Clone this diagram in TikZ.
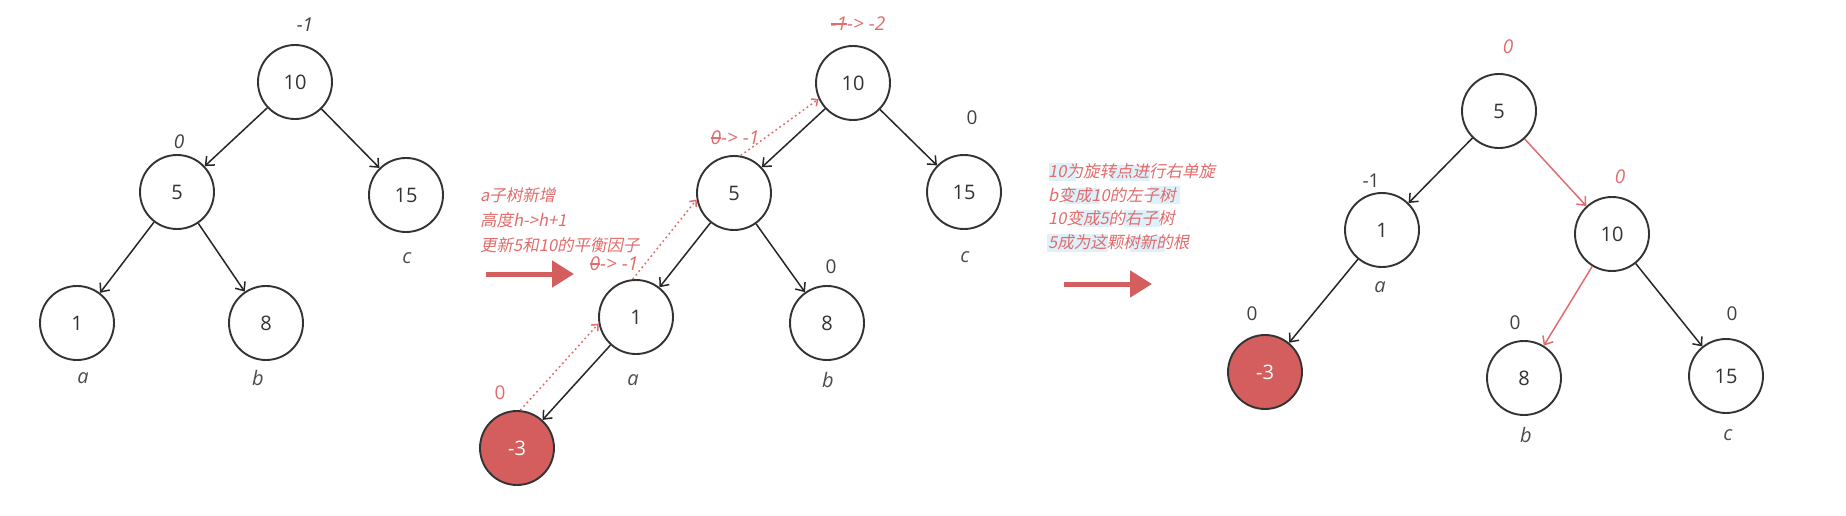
\documentclass[tikz,border=0pt]{standalone}
\usepackage{fontspec}
\setmainfont{Open Sans}
\newfontfamily\cjk[FakeSlant=0.2]{Noto Sans CJK SC}
\usetikzlibrary{arrows.meta}
\definecolor{lred}{RGB}{226,108,108}
\definecolor{nred}{RGB}{212,94,94}
\definecolor{hblue}{RGB}{222,241,250}
\newcommand\strk[1]{\setbox0\hbox{#1}\rlap{\rule[0.32em]{\wd0}{1.3pt}}\box0}
\begin{document}
\begin{tikzpicture}[x=1pt,y=-1pt,
  tn/.style={circle,draw=black!80,line width=1.9pt,minimum size=74pt,inner sep=0pt,
    font=\fontsize{20}{24}\selectfont,text=black!80},
  newn/.style={tn,fill=nred,text=white},
  edge/.style={-{Straight Barb[length=7pt,width=12pt]},line width=1.5pt,draw=black!85},
  redge/.style={edge,draw=lred},
  dotarr/.style={-{Straight Barb[length=5pt,width=9pt]},dash pattern=on 1.8pt off 3pt,line width=1.5pt,draw=lred},
  lab/.style={font=\fontsize{20}{24}\selectfont\itshape,text=black!70},
  bf/.style={font=\fontsize{19}{24}\selectfont,text=black!75},
  bfi/.style={font=\fontsize{19}{24}\selectfont\itshape,text=black!75},
  rbf/.style={font=\fontsize{19}{24}\selectfont\itshape,text=lred},
  note/.style={font=\cjk\fontsize{16.5}{25}\selectfont,text=lred,align=left,anchor=west,inner sep=0pt},
  bigarr/.style={-{Triangle[length=22pt,width=26pt]},line width=5pt,draw=nred}
]
\path[use as bounding box] (0,0) rectangle (1846,516);

% ---------- panel 1 ----------
\node[tn] (p1n10) at (295,82) {10};
\node[tn] (p1n5) at (177,192) {5};
\node[tn] (p1n15) at (406,195) {15};
\node[tn] (p1n1) at (77,323) {1};
\node[tn] (p1n8) at (266,323) {8};
\node[bfi] (p1b10) at (305,25) {-1};
\node[bfi] (p1b5) at (179,142) {0};
\node[lab] (p1a) at (83,378) {a};
\node[lab] (p1b) at (258,378) {b};
\node[lab] (p1c) at (407,258) {c};
\draw[edge] (p1n10) -- (p1n5);
\draw[edge] (p1n10) -- (p1n15);
\draw[edge] (p1n5) -- (p1n1);
\draw[edge] (p1n5) -- (p1n8);

% ---------- panel 2 ----------
\node[note] (t1) at (480,220) {a子树新增\\高度h->h+1\\更新5和10的平衡因子};
\coordinate (a1s) at (486,274);
\coordinate (a1e) at (574,274);
\draw[bigarr] (a1s) -- (a1e);

\node[tn] (p2n10) at (853,83) {10};
\node[tn] (p2n5) at (734,193) {5};
\node[tn] (p2n15) at (964,192) {15};
\node[tn] (p2n1) at (636,317) {1};
\node[tn] (p2n8) at (827,323) {8};
\node[newn] (p2n3) at (517,448) {-3};
\node[rbf] (p2b10) at (858,24) {\strk{-1} -> -2};
\node[rbf] (p2b5) at (735,138) {\strk{0} -> -1};
\node[rbf] (p2b1) at (614,264) {\strk{0} -> -1};
\node[bf] (p2b15) at (972,118) {0};
\node[bf] (p2b8) at (831,267) {0};
\node[bf,text=lred] (p2b3) at (500,393) {0};
\node[lab] (p2a) at (633,380) {a};
\node[lab] (p2b) at (828,380) {b};
\node[lab] (p2c) at (965,257) {c};
\draw[edge] (p2n10) -- (p2n5);
\draw[edge] (p2n10) -- (p2n15);
\draw[edge] (p2n5) -- (p2n1);
\draw[edge] (p2n5) -- (p2n8);
\draw[edge] (p2n1) -- (p2n3);
\draw[dotarr] (p2n3.85) -- (p2n1.190);
\draw[dotarr] (p2n1.95) -- (p2n5.190);
\draw[dotarr] (p2n5.80) -- (p2n10.205);

% ---------- panel 3 notes ----------
\fill[hblue] (1049,163) rectangle (1076,181);
\fill[hblue] (1110,165) rectangle (1150,181);
\fill[hblue] (1064,188) rectangle (1100,204);
\fill[hblue] (1150,186) rectangle (1180,204);
\fill[hblue] (1078,210) rectangle (1112,227);
\fill[hblue] (1124,210) rectangle (1160,227);
\fill[hblue] (1047,234) rectangle (1108,252);
\fill[hblue] (1130,236) rectangle (1165,252);
\node[note,font=\cjk\fontsize{16.5}{23.5}\selectfont] (t2) at (1048,207) {10为旋转点进行右单旋\\b变成10的左子树\\10变成5的右子树\\5成为这颗树新的根};
\coordinate (a2s) at (1064,284);
\coordinate (a2e) at (1152,284);
\draw[bigarr] (a2s) -- (a2e);

% ---------- panel 3 ----------
\node[tn] (p3n5) at (1499,111) {5};
\node[tn] (p3n1) at (1382,230) {1};
\node[tn] (p3n10) at (1612,234) {10};
\node[newn] (p3n3) at (1265,372) {-3};
\node[tn] (p3n8) at (1524,378) {8};
\node[tn] (p3n15) at (1726,376) {15};
\node[rbf] (p3b5) at (1508,47) {0};
\node[bf] (p3b1) at (1371,181) {-1};
\node[rbf] (p3b10) at (1620,177) {0};
\node[bf] (p3b3) at (1252,314) {0};
\node[bf] (p3b8) at (1515,323) {0};
\node[bf] (p3b15) at (1732,314) {0};
\node[lab] (p3a) at (1380,287) {a};
\node[lab] (p3b) at (1526,435) {b};
\node[lab] (p3c) at (1728,435) {c};
\draw[edge] (p3n5) -- (p3n1);
\draw[redge] (p3n5) -- (p3n10);
\draw[edge] (p3n1) -- (p3n3);
\draw[redge] (p3n10) -- (p3n8);
\draw[edge] (p3n10) -- (p3n15);
\end{tikzpicture}
\end{document}
